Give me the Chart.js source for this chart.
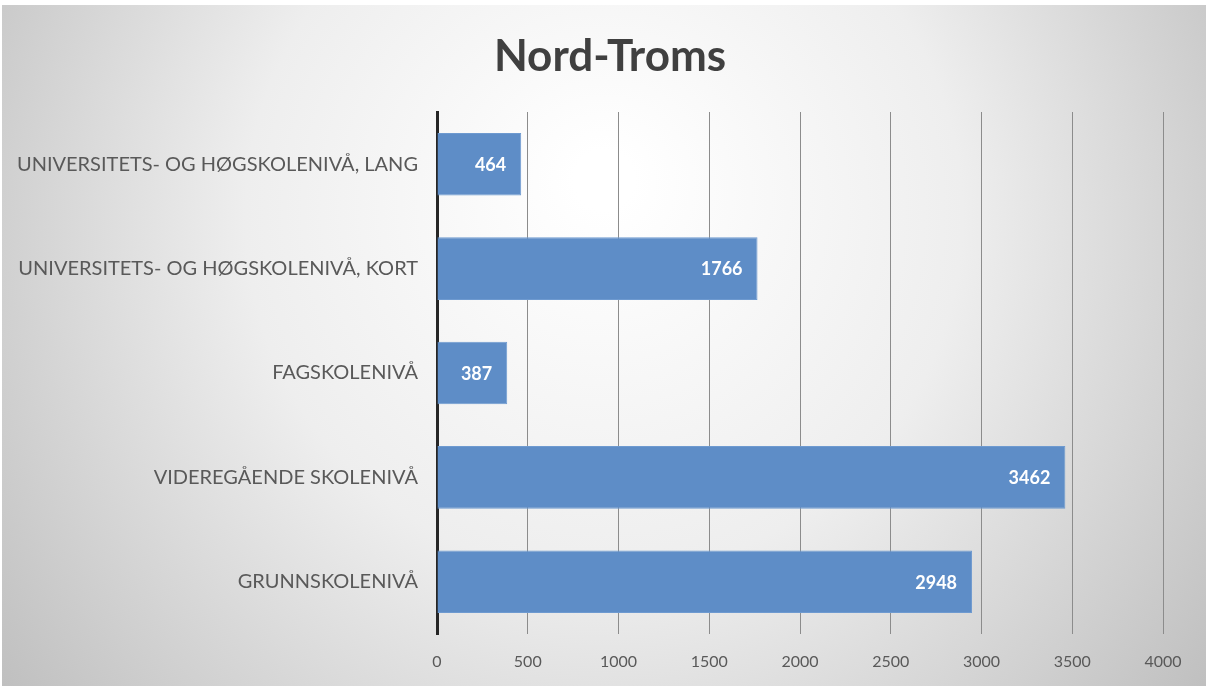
<!DOCTYPE html>
<html>
<head>
<meta charset="utf-8">
<script src="https://cdn.jsdelivr.net/npm/chart.js@4.4.0/dist/chart.umd.min.js"></script>
<style>
    html, body { margin: 0; padding: 0; background: #fff; }
    #wrap { width: 1208px; height: 688px; position: relative; }
</style>
</head>
<body>
<div id="wrap"><canvas id="eduChart"></canvas></div>
<script>
const chartTitle = 'Nord-Troms';
const categories = [
    'UNIVERSITETS- OG HØGSKOLENIVÅ, LANG',
    'UNIVERSITETS- OG HØGSKOLENIVÅ, KORT',
    'FAGSKOLENIVÅ',
    'VIDEREGÅENDE SKOLENIVÅ',
    'GRUNNSKOLENIVÅ'
];
const counts = [464, 1766, 387, 3462, 2948];
const xMin = 0;
const xMax = 4000;
const xStep = 500;

// grey radial background like the office chart style, plus the title
const backdrop = {
    id: 'backdrop',
    beforeDraw(chart) {
        const ctx = chart.ctx;
        ctx.save();
        ctx.fillStyle = '#ffffff';
        ctx.fillRect(0, 0, chart.width, chart.height);
        const g = ctx.createRadialGradient(604, 180, 30, 604, 260, 760);
        g.addColorStop(0, '#ffffff');
        g.addColorStop(0.45, '#eeeeee');
        g.addColorStop(1, '#bdbdbd');
        ctx.fillStyle = g;
        ctx.fillRect(2, 5, chart.width - 4, chart.height - 7);

        // title sits centred on the whole picture, not the padded box
        ctx.font = 'bold 44px Lato';
        ctx.fillStyle = '#404040';
        ctx.textAlign = 'center';
        ctx.textBaseline = 'middle';
        ctx.fillText(chartTitle, 610, 57);
        ctx.restore();
    }
};

// value labels inside the bar ends
const barValues = {
    id: 'barValues',
    afterDatasetsDraw(chart) {
        const ctx = chart.ctx;
        const meta = chart.getDatasetMeta(0);
        ctx.save();
        ctx.font = 'bold 18px Lato';
        ctx.fillStyle = '#ffffff';
        ctx.textAlign = 'right';
        ctx.textBaseline = 'middle';
        meta.data.forEach(function (bar, i) {
            ctx.fillText(String(counts[i]), bar.x - 15, bar.y + 1);
        });
        ctx.restore();
    }
};

new Chart(document.getElementById('eduChart').getContext('2d'), {
    type: 'bar',
    data: {
        labels: categories,
        datasets: [{
            label: chartTitle,
            data: counts,
            backgroundColor: '#5e8dc7',
            borderColor: '#6e9ad0',
            borderWidth: 1,
            categoryPercentage: 0.6,
            barPercentage: 1
        }]
    },
    options: {
        indexAxis: 'y',
        responsive: true,
        maintainAspectRatio: false,
        animation: false,
        layout: { padding: { left: 0, right: 45, top: 112, bottom: 0 } },
        plugins: {
            legend: { display: false },
            tooltip: { enabled: false },
            title: { display: false }
        },
        scales: {
            x: {
                min: xMin,
                max: xMax,
                ticks: {
                    stepSize: xStep,
                    color: '#595959',
                    font: { family: 'Lato', size: 16 },
                    padding: 18,
                    callback: function (v) { return String(v); }
                },
                grid: { color: '#8c8c8c', lineWidth: 1, drawTicks: false },
                border: { display: false },
                afterFit(scale) { scale.height = 54; }
            },
            y: {
                ticks: {
                    color: '#595959',
                    font: { family: 'Lato', size: 20 },
                    padding: 19
                },
                grid: { display: false, drawTicks: false },
                border: { display: true, color: '#262626', width: 3 },
                afterFit(scale) { scale.width = 437; }
            }
        }
    },
    plugins: [backdrop, barValues]
});
</script>
</body>
</html>
